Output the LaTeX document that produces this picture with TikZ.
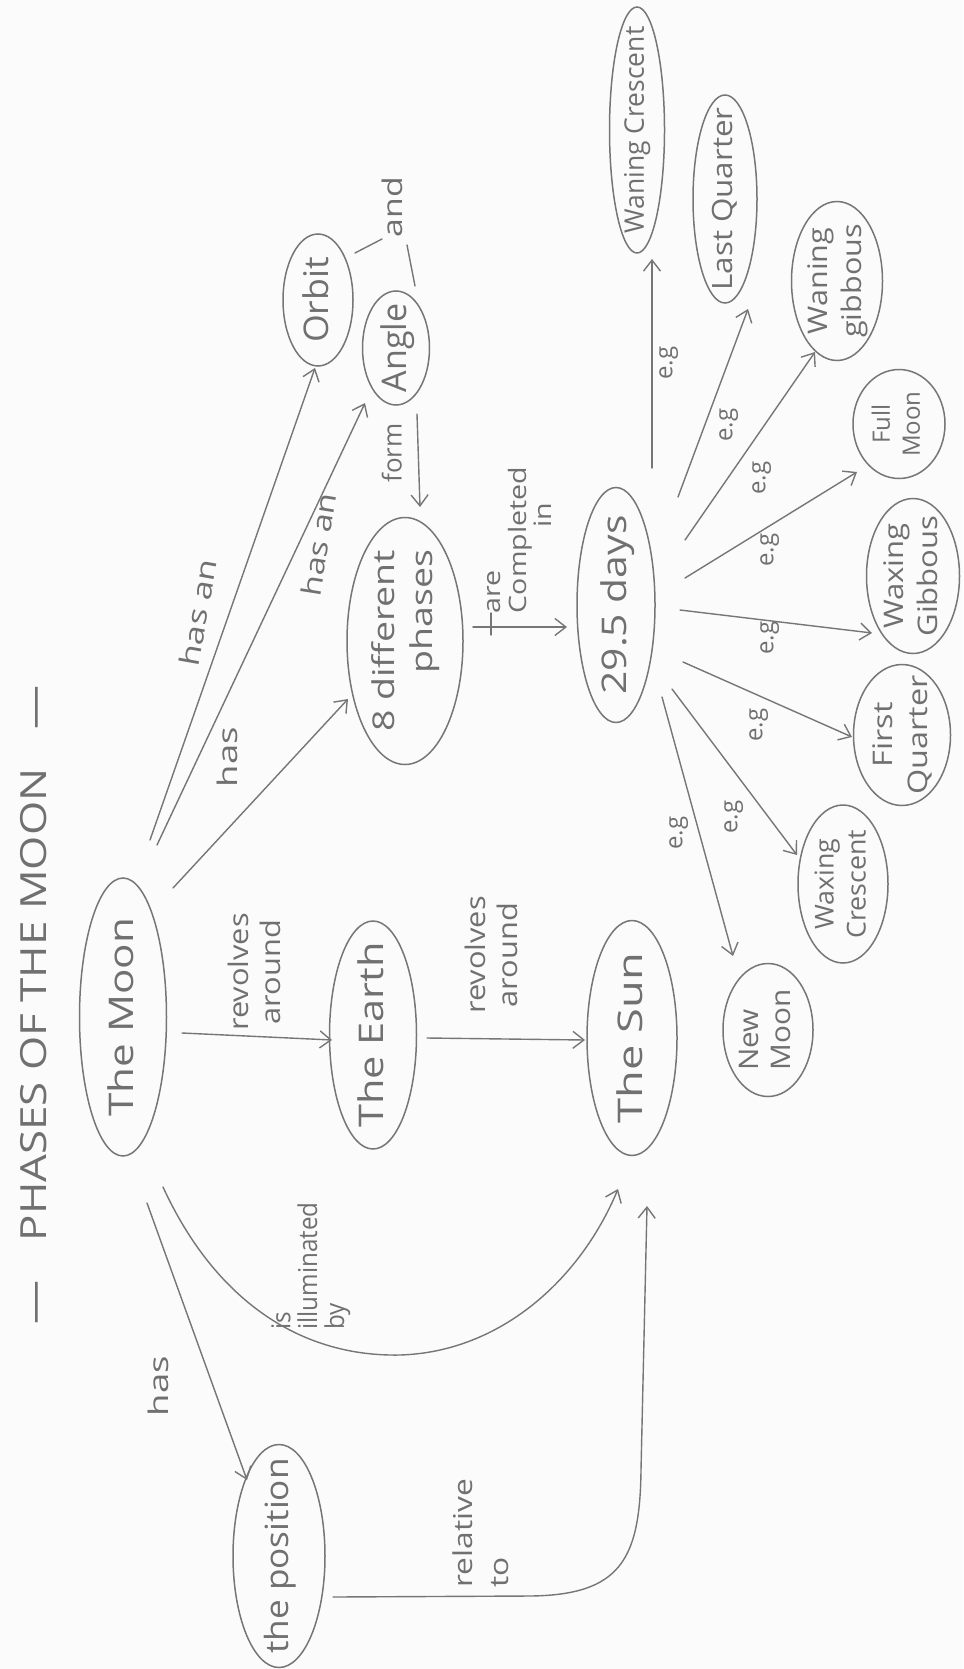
\documentclass[tikz,border=0pt]{standalone}
\usepackage{fontspec}
\setmainfont{Open Sans}
\usepackage{graphicx}
\usetikzlibrary{shapes.geometric,arrows.meta,calc}
\definecolor{pencil}{RGB}{118,118,118}
\definecolor{ink}{RGB}{112,112,112}
\definecolor{paper}{RGB}{251,251,251}
\newcommand{\tx}[3][1]{\makebox[0pt]{\raisebox{-0.25em}[0pt][0pt]{\scalebox{#1}[1]{\begin{tabular}{@{}#2@{}}#3\end{tabular}}}}}
\newcommand{\fs}[2]{\fontsize{#1}{#2}\selectfont}
\begin{document}
\begin{tikzpicture}[x=1pt,y=-1pt,
  bub/.style={ellipse, draw=pencil, line width=1.5pt, inner sep=0pt, rotate=90, text=ink},
  lbl/.style={inner sep=0pt, text=ink},
  arr/.style={draw=pencil, line width=1.4pt, line cap=round, -{Straight Barb[length=11pt,width=17pt,line width=1.4pt]}},
  ln/.style={draw=pencil, line width=1.4pt, line cap=round}]
\fill[paper] (0,0) rectangle (963,1669);
\useasboundingbox (0,0) rectangle (963,1669);

% title
\node[lbl, rotate=90, font=\fs{36}{40}] (title) at (36,1005) {\tx[1.22]{c}{—\hspace{0.9em}PHASES OF THE MOON\hspace{0.9em}—}};

% concept bubbles
\node[bub, minimum width=278pt, minimum height=87pt, font=\fs{34}{40}] (moon) at (123,1017) {\tx[1.24]{c}{The Moon}};
\node[bub, minimum width=228pt, minimum height=87pt, font=\fs{34}{40}] (earth) at (373,1035) {\tx[1.22]{c}{The Earth}};
\node[bub, minimum width=235pt, minimum height=90pt, font=\fs{34}{40}] (sun) at (632,1038) {\tx[1.33]{c}{The Sun}};
\node[bub, minimum width=223pt, minimum height=92pt, font=\fs{32}{38}] (pos) at (279,1556) {\tx[1.1]{c}{the position}};
\node[bub, minimum width=132pt, minimum height=70pt, font=\fs{34}{40}] (orbit) at (318,300) {\tx[1.05]{c}{Orbit}};
\node[bub, minimum width=114pt, minimum height=67pt, font=\fs{34}{40}] (angle) at (396,348) {\tx{c}{Angle}};
\node[bub, minimum width=247pt, minimum height=116pt, font=\fs{30}{38}] (ph8) at (405,641) {\tx[1.25]{r}{8 different\\phases}};
\node[bub, minimum width=235pt, minimum height=78pt, font=\fs{34}{40}] (days) at (616,605) {\tx[1.2]{c}{29.5 days}};
\node[bub, minimum width=246pt, minimum height=55pt, font=\fs{27}{32}] (wancres) at (637,130) {\tx[0.98]{c}{Waning Crescent}};
\node[bub, minimum width=208pt, minimum height=64pt, font=\fs{28}{32}] (lastq) at (725,199) {\tx[1.12]{c}{Last Quarter}};
\node[bub, minimum width=159pt, minimum height=91pt, font=\fs{27}{34}] (wangib) at (837,281) {\tx[1.13]{c}{Waning\\gibbous}};
\node[bub, minimum width=109pt, minimum height=92pt, font=\fs{24}{30}] (fullm) at (899,424) {\tx{c}{Full\\Moon}};
\node[bub, minimum width=155pt, minimum height=93pt, font=\fs{27}{34}] (waxgib) at (913,576) {\tx[1.15]{c}{Waxing\\Gibbous}};
\node[bub, minimum width=141pt, minimum height=97pt, font=\fs{27}{35}] (firstq) at (902,735) {\tx[1.2]{c}{First\\Quarter}};
\node[bub, minimum width=158pt, minimum height=90pt, font=\fs{26}{32}] (waxcres) at (843,884) {\tx[1.03]{c}{Waxing\\Crescent}};
\node[bub, minimum width=133pt, minimum height=90pt, font=\fs{27}{32}] (newm) at (768,1030) {\tx[1.1]{l}{New\\Moon}};

% link labels
\node[lbl, rotate=80, font=\fs{27}{32}] (hasan1) at (201,613) {\tx[1.3]{c}{has an}};
\node[lbl, rotate=81, font=\fs{27}{32}] (hasan2) at (322,545) {\tx[1.25]{c}{has an}};
\node[lbl, rotate=90, font=\fs{27}{32}] (has1) at (231,757) {\tx[1.35]{c}{has}};
\node[lbl, rotate=90, font=\fs{27}{32}] (rev1) at (258,972) {\tx[1.14]{c}{revolves\\around}};
\node[lbl, rotate=90, font=\fs{27}{32}] (rev2) at (495,955) {\tx[1.14]{c}{revolves\\around}};
\node[lbl, rotate=90, font=\fs{26}{24}] (illum) at (311,1266) {\tx[0.93]{l}{is\\illuminated\\by}};
\node[lbl, rotate=90, font=\fs{27}{32}] (has2) at (162,1386) {\tx[1.35]{c}{has}};
\node[lbl, rotate=90, font=\fs{26}{36}] (relto) at (483,1533) {\tx[1.22]{l}{relative\\to}};
\node[lbl, rotate=90, font=\fs{27}{32}] (andl) at (396,207) {\tx[1.25]{c}{and}};
\node[lbl, rotate=90, font=\fs{26}{32}] (form) at (395,453) {\tx{c}{form}};
\node[lbl, rotate=90, font=\fs{24}{25}] (compl) at (521,540) {\tx[1.19]{l}{are\\Completed\\\hspace{3em}in}};
\node[lbl, rotate=90, font=\fs{24}{28}] (eg1) at (667,363) {\tx{c}{e.g}};
\node[lbl, rotate=90, font=\fs{24}{28}] (eg2) at (727,425) {\tx{c}{e.g}};
\node[lbl, rotate=90, font=\fs{24}{28}] (eg3) at (760,478) {\tx{c}{e.g}};
\node[lbl, rotate=90, font=\fs{24}{28}] (eg4) at (768,550) {\tx{c}{e.g}};
\node[lbl, rotate=90, font=\fs{24}{28}] (eg5) at (768,638) {\tx{c}{e.g}};
\node[lbl, rotate=90, font=\fs{24}{28}] (eg6) at (757,725) {\tx{c}{e.g}};
\node[lbl, rotate=90, font=\fs{24}{28}] (eg7) at (732,817) {\tx{c}{e.g}};
\node[lbl, rotate=90, font=\fs{24}{28}] (eg8) at (677,833) {\tx{c}{e.g}};

% bend points of curved connectors
\coordinate (illumlow) at (400,1355);
\coordinate (relA) at (530,1596);
\coordinate (relB) at (641,1470);

% connectors
\draw[arr] ($(moon)+(27,-177)$) -- ($(orbit)+(-3,68)$);
\draw[arr] ($(moon)+(34,-172)$) -- ($(angle)+(-31,55)$);
\draw[arr] ($(moon)+(50,-129)$) -- ($(ph8)+(-57,58)$);
\draw[arr] ($(moon)+(59,16)$) -- ($(earth)+(-41,5)$);
\draw[arr] ($(earth)+(54,3)$) -- ($(sun)+(-47,2)$);
\draw[arr] ($(moon)+(40,170)$) .. controls (215,1300) and (300,1357) .. (illumlow) .. controls (500,1352) and (580,1280) .. ($(sun)+(-14,151)$);
\draw[arr] ($(moon)+(24,186)$) -- ($(pos)+(-32,-76)$);
\draw[arr] ($(pos)+(54,41)$) -- (relA) .. controls (620,1595) and (640,1560) .. (relB) -- ($(sun)+(15,168)$);
\draw[ln] ($(orbit)+(37,-47)$) -- ($(andl)+(-14,32)$);
\draw[ln] ($(andl)+(11,38)$) -- ($(angle)+(19,-62)$);
\draw[arr] ($(angle)+(21,66)$) -- ($(ph8)+(15,-134)$);
\draw[arr] ($(ph8)+(68,-14)$) -- ($(days)+(-49,22)$);
\draw[ln] ($(ph8)+(86,-28)$) -- ($(ph8)+(86,-6)$);
\draw[arr] ($(days)+(36,-137)$) -- ($(wancres)+(15,129)$);
\draw[arr] ($(days)+(62,-108)$) -- ($(lastq)+(23,110)$);
\draw[arr] ($(days)+(69,-65)$) -- ($(wangib)+(-22,71)$);
\draw[arr] ($(days)+(69,-27)$) -- ($(fullm)+(-42,48)$);
\draw[arr] ($(days)+(64,5)$) -- ($(waxgib)+(-41,57)$);
\draw[arr] ($(days)+(67,57)$) -- ($(firstq)+(-50,2)$);
\draw[arr] ($(days)+(56,84)$) -- ($(waxcres)+(-46,-29)$);
\draw[arr] ($(days)+(46,92)$) -- ($(newm)+(-35,-74)$);
\end{tikzpicture}
\end{document}
